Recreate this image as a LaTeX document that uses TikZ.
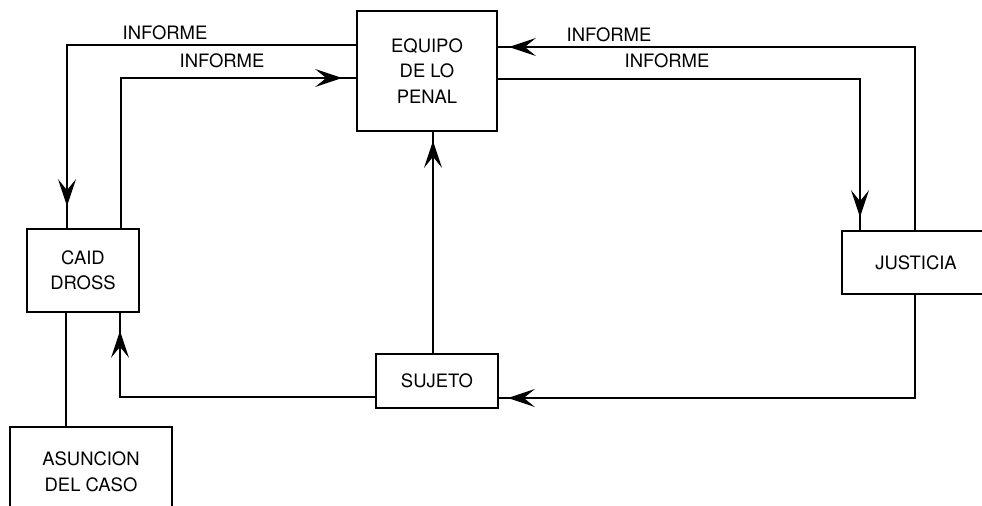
\documentclass[tikz,border=0pt]{standalone}
\usepackage{fontspec}
\setmainfont{TeX Gyre Heros}
\usetikzlibrary{arrows.meta, decorations.markings}

\begin{document}
\begin{tikzpicture}[
        x=0.02cm, y=-0.02cm,
        >={Stealth[length=0.54cm, width=0.36cm, inset=0.22cm]},
        box/.style={rectangle, draw=black, line width=1pt, inner sep=0pt, align=center, font=\fontsize{10.5}{14.5}\selectfont},
        conn/.style={line width=0.7pt},
        headat/.style={postaction={decorate, decoration={markings, mark=at position -#1 with {\arrow{>}}}}},
        lbl/.style={font=\fontsize{10.5}{12}\selectfont, inner sep=0pt}
    ]
    \useasboundingbox (0,0) rectangle (982,506);
    \clip (0,0) rectangle (982,506);

    % cajas
    \node[box, minimum width=2.8cm, minimum height=2.4cm] (equipo) at (427,71) {EQUIPO\\DE LO\\PENAL};
    \node[box, minimum width=2.24cm, minimum height=1.66cm] (caid) at (83,270.5) {CAID\\DROSS};
    \node[box, minimum width=2.96cm, minimum height=1.26cm] (justicia) at (916,262.5) {JUSTICIA};
    \node[box, minimum width=2.44cm, minimum height=1.08cm] (sujeto) at (437,381) {SUJETO};
    \node[box, minimum width=3.24cm, minimum height=1.8cm] (asuncion) at (91,472) {ASUNCION\\DEL CASO};

    % informes
    \draw[conn, headat=0.44cm] (equipo.west |- 0,45) -| (caid.north -| 67,0);
    \draw[conn, headat=0.28cm] (caid.north -| 121,0) |- (equipo.west |- 0,78);
    \draw[conn, headat=0.22cm] (justicia.north -| 915,0) |- (equipo.east |- 0,47);
    \draw[conn, headat=0.26cm] (equipo.east |- 0,79) -| (justicia.north -| 860,0);
    \node[lbl] (inf1) at (165,33) {INFORME};
    \node[lbl] (inf2) at (222,61) {INFORME};
    \node[lbl] (inf3) at (609,35) {INFORME};
    \node[lbl] (inf4) at (667,61) {INFORME};

    % circuito del sujeto
    \draw[conn, headat=0.18cm] (justicia.south -| 915,0) |- (sujeto.east |- 0,398);
    \draw[conn, headat=0.18cm] (sujeto.north -| 433,0) -- (equipo.south -| 433,0);
    \draw[conn, headat=0.36cm] (sujeto.west |- 0,397) -| (caid.south -| 120,0);
    \draw[conn] (caid.south -| 66,0) -- (asuncion.north -| 66,0);

\end{tikzpicture}
\end{document}
